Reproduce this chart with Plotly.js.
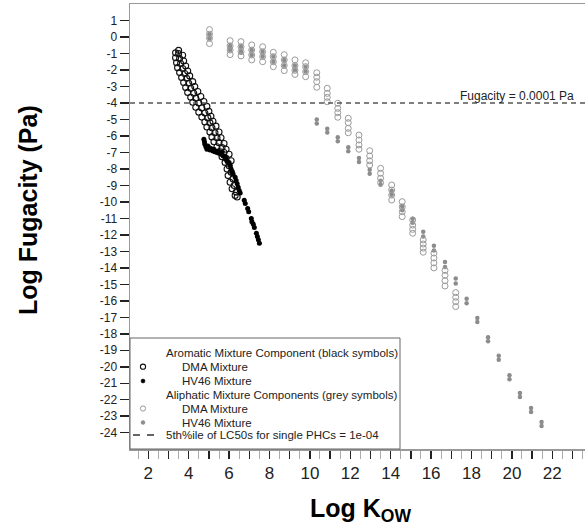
<!DOCTYPE html>
<html><head><meta charset="utf-8">
<script src="https://cdn.plot.ly/plotly-3.0.1.min.js"></script>
<style>html,body{margin:0;padding:0;background:#fff}#chart{width:585px;height:529px}</style>
</head><body><div id="chart"></div>
<script>
// Aromatic components, DMA mixture (black open circles)
const aromDmaKow = [3.5,3.35,3.35,3.4,3.45,3.55,3.65,3.75,3.85,3.95,4.1,4.2,4.35,4.5,4.65,4.8,4.9,5.05,5.15,5.25,5.4,5.55,5.65,5.8,5.9,5.95,6.05,6.15,6.3,
  3.5,3.55,3.6,3.7,3.8,3.9,4.0,4.1,4.25,4.35,4.5,4.65,4.8,4.95,5.05,5.15,5.3,5.4,5.5,5.65,5.75,5.85,6.0,6.1,6.2,6.25,6.35,6.4,
  3.7,3.75,3.85,3.95,4.05,4.2,4.3,4.45,4.6,4.75,4.9,5.0,5.1,5.2,5.35,5.5,5.6,5.75,5.85,6.0,6.1];
const aromDmaFug = [-0.8,-0.95,-1.25,-1.55,-1.85,-2.15,-2.45,-2.75,-3.05,-3.35,-3.65,-3.95,-4.25,-4.55,-4.85,-5.15,-5.45,-5.75,-6.05,-6.35,-6.65,-6.95,-7.25,-7.6,-8.0,-8.4,-8.8,-9.2,-9.6,
  -1.0,-1.3,-1.6,-1.9,-2.2,-2.5,-2.8,-3.1,-3.4,-3.7,-4.0,-4.3,-4.6,-4.9,-5.2,-5.5,-5.8,-6.1,-6.4,-6.7,-7.0,-7.35,-7.8,-8.2,-8.6,-9.0,-9.4,-9.7,
  -1.1,-1.45,-1.75,-2.05,-2.35,-2.7,-3.0,-3.3,-3.6,-3.9,-4.2,-4.5,-4.8,-5.1,-5.4,-5.75,-6.1,-6.45,-6.8,-7.1,-7.5];
// Aromatic components, HV46 mixture (black filled)
const aromHvKow = [4.75,4.78,4.8,4.85,4.9,4.95,5.0,5.05,5.1,5.2,5.25,5.3,5.4,5.45,5.5,5.6,5.65,5.7,5.8,5.85,5.9,6.0,6.05,6.1,6.15,6.2,6.3,6.35,6.4,6.45,6.5,6.55,6.75,6.8,6.92,6.97,7.1,7.13,7.2,7.25,7.35,7.4,7.45,7.5];
const aromHvFug = [-6.2,-6.35,-6.5,-6.65,-6.8,-6.6,-6.7,-6.85,-6.75,-6.9,-6.8,-6.95,-7.0,-6.9,-7.05,-7.1,-7.0,-7.2,-7.25,-7.4,-7.55,-7.6,-7.8,-8.0,-8.15,-8.3,-8.5,-8.7,-8.9,-9.1,-9.3,-9.45,-9.9,-10.1,-10.4,-10.6,-11.0,-11.2,-11.35,-11.55,-11.9,-12.1,-12.3,-12.5];
// Aliphatic components, DMA mixture (grey open circles)
const aliDmaKow = [5.03,5.03,5.03,5.03, 6.05,6.05,6.05,6.05, 6.59,6.59,6.59,6.59, 7.12,7.12,7.12,7.12, 7.66,7.66,7.66,7.66,
  8.19,8.19,8.19,8.19, 8.73,8.73,8.73,8.73, 9.26,9.26,9.26,9.26, 9.79,9.79,9.79,9.79, 10.34,10.34,10.34,10.34,
  10.86,10.86,10.86,10.86, 11.38,11.38,11.38,11.38, 11.9,11.9,11.9,11.9, 12.43,12.43,12.43,12.43, 12.96,12.96,12.96,12.96,
  13.5,13.5,13.5,13.5, 14.05,14.05,14.05,14.05, 14.57,14.57,14.57,14.57, 15.09,15.09,15.09,15.09, 15.61,15.61,15.61,15.61,
  16.14,16.14,16.14,16.14, 16.69,16.69,16.69,16.69, 17.22,17.22,17.22,17.22];
const aliDmaFug = [0.46,0.18,-0.07,-0.39, -0.21,-0.53,-0.78,-1.06, -0.27,-0.58,-0.88,-1.14, -0.47,-0.78,-1.08,-1.38, -0.58,-0.88,-1.18,-1.49,
  -0.92,-1.18,-1.49,-1.79, -1.06,-1.38,-1.72,-2.03, -1.38,-1.72,-2.01,-2.26, -1.55,-1.79,-2.09,-2.4, -2.16,-2.43,-2.7,-3.04,
  -3.1,-3.41,-3.65,-3.92, -4.01,-4.32,-4.58,-4.86, -4.92,-5.19,-5.53,-5.8, -5.94,-6.24,-6.54,-6.8, -6.89,-7.21,-7.5,-7.76,
  -7.96,-8.26,-8.56,-8.83, -8.97,-9.27,-9.58,-9.88, -9.98,-10.29,-10.59,-10.89, -11.09,-11.4,-11.66,-11.9, -12.3,-12.55,-12.8,-13.05,
  -13.1,-13.4,-13.7,-14.0, -14.15,-14.45,-14.78,-15.1, -15.5,-15.78,-16.05,-16.35];
// Aliphatic components, HV46 mixture (grey filled)
const aliHvKow = [5.03,5.03, 6.05,6.05, 6.59,6.59, 7.12,7.12, 7.66,7.66, 8.19,8.19, 8.73,8.73, 9.26,9.26, 9.79,9.79,
  10.34,10.34, 10.86,10.86, 11.38,11.38, 11.9,11.9, 12.43,12.43, 12.96,12.96, 13.5,13.5, 14.05,14.05, 14.57,14.57,
  15.09,15.09, 15.61,15.61, 16.14,16.14, 16.69,16.69, 17.22,17.22, 17.76,17.76, 18.29,18.29, 18.82,18.82, 19.35,19.35,
  19.88,19.88, 20.4,20.4, 20.95,20.95, 21.47,21.47];
const aliHvFug = [0.18,-0.07, -0.53,-0.78, -0.58,-0.88, -0.78,-1.08, -0.88,-1.18, -1.18,-1.49, -1.38,-1.72, -1.72,-2.01, -1.79,-2.09,
  -5.0,-5.24, -5.55,-5.79, -6.08,-6.32, -6.68,-6.92, -7.33,-7.57, -8.04,-8.28, -8.71,-8.95, -9.32,-9.56, -10.26,-10.5,
  -11.02,-11.26, -11.8,-12.1, -12.65,-12.95, -13.65,-13.95, -14.65,-14.95, -15.87,-16.15, -17.04,-17.28, -18.21,-18.45, -19.33,-19.57,
  -20.52,-20.76, -21.59,-21.83, -22.5,-22.74, -23.35,-23.59];
// Axis ticks
const xTickVals = [1,2,3,4,5,6,7,8,9,10,11,12,13,14,15,16,17,18,19,20,21,22,23];
const xTickText = [' ','2',' ','4',' ','6',' ','8',' ','10',' ','12',' ','14',' ','16',' ','18',' ','20',' ','22',' '];
const yTickVals = [1,0,-1,-2,-3,-4,-5,-6,-7,-8,-9,-10,-11,-12,-13,-14,-15,-16,-17,-18,-19,-20,-21,-22,-23,-24];
const yTickText = ['1','0','-1','-2','-3','-4','-5','-6','-7','-8','-9','-10','-11','-12','-13','-14','-15','-16','-17','-18','-19','-20','-21','-22','-23','-24'];
const thresholdLog = -4;
const legendLabels = ['Aromatic Mixture Component (black symbols)','DMA Mixture','HV46 Mixture','Aliphatic Mixture Components (grey symbols)','DMA Mixture','HV46 Mixture','5th%ile of LC50s for single PHCs = 1e-04'];

const FONT = '"Liberation Sans", Arial, sans-serif';
const L = 130, T = 4, W = 455, H = 445;
const px2x = p => (p - L) / W;
const px2y = p => (T + H - p) / H;

const traces = [
  {x: aliHvKow, y: aliHvFug, type: 'scatter', mode: 'markers', marker: {symbol: 'circle', size: 4.5, color: '#8c8c8c'}},
  {x: aliDmaKow, y: aliDmaFug, type: 'scatter', mode: 'markers', marker: {symbol: 'circle-open', size: 6, color: '#9a9a9a', line: {width: 1}}},
  {x: aromDmaKow, y: aromDmaFug, type: 'scatter', mode: 'markers', marker: {symbol: 'circle-open', size: 6, color: '#111', line: {width: 1.1}}},
  {x: aromHvKow, y: aromHvFug, type: 'scatter', mode: 'markers', marker: {symbol: 'circle', size: 5, color: '#000'}}
];

const shapes = [
  {type: 'line', xref: 'paper', x0: 0, x1: 1, yref: 'y', y0: thresholdLog, y1: thresholdLog, line: {color: '#555', width: 1.5, dash: '5px,4px'}},
  {type: 'rect', xref: 'paper', yref: 'paper', x0: 0, x1: px2x(400), y0: 0, y1: px2y(338), line: {color: '#666', width: 1}, fillcolor: '#fff', layer: 'above'},
];
function circ(cx, cy, r, opts) {
  return Object.assign({type: 'circle', xref: 'paper', yref: 'paper', x0: px2x(cx - r), x1: px2x(cx + r), y0: px2y(cy + r), y1: px2y(cy - r), layer: 'above'}, opts);
}
shapes.push(circ(143, 366.7, 2.6, {line: {color: '#111', width: 1.1}, fillcolor: 'rgba(0,0,0,0)'}));
shapes.push(circ(143, 381, 2.0, {line: {color: '#000', width: 0.5}, fillcolor: '#000'}));
shapes.push(circ(143, 408.5, 2.6, {line: {color: '#9a9a9a', width: 1}, fillcolor: 'rgba(0,0,0,0)'}));
shapes.push(circ(143, 422.5, 2.0, {line: {color: '#8c8c8c', width: 0.5}, fillcolor: '#8c8c8c'}));
shapes.push({type: 'line', xref: 'paper', yref: 'paper', x0: px2x(133), x1: px2x(154), y0: px2y(435), y1: px2y(435), line: {color: '#333', width: 1.5, dash: '7px,7px'}, layer: 'above'});

const legY = [352.7, 366.7, 381, 394.5, 408.5, 422.5, 435];
const legX = [164, 180, 180, 164, 180, 180, 164];
const annotations = legendLabels.map((t, i) => ({
  text: t, xref: 'paper', yref: 'paper', x: px2x(legX[i]), y: px2y(legY[i]), xanchor: 'left', yanchor: 'middle',
  showarrow: false, font: {family: FONT, size: 11.5, color: '#222'}
}));
annotations.push({text: 'Fugacity = 0.0001 Pa', xref: 'paper', yref: 'paper', x: px2x(458), y: px2y(96.5), xanchor: 'left', yanchor: 'middle', showarrow: false, font: {family: FONT, size: 12, color: '#222'}});
annotations.push({text: '<b>Log K<sub>OW</sub></b>', xref: 'paper', yref: 'paper', x: px2x(360), y: px2y(510), xanchor: 'center', yanchor: 'middle', showarrow: false, font: {family: FONT, size: 25, color: '#000'}});
annotations.push({text: '<b>Log Fugacity (Pa)</b>', xref: 'paper', yref: 'paper', x: px2x(28), y: px2y(210), xanchor: 'center', yanchor: 'middle', textangle: -90, showarrow: false, font: {family: FONT, size: 25, color: '#000'}});

const layout = {
  width: 585, height: 529,
  margin: {l: L, r: 0, t: T, b: 529 - T - H, pad: 0},
  paper_bgcolor: '#fff', plot_bgcolor: '#fff',
  showlegend: false,
  font: {family: FONT, color: '#222'},
  xaxis: {range: [1.094, 23.62], showgrid: false, zeroline: false, showline: true, linecolor: '#999', linewidth: 1.5, mirror: true,
    tickmode: 'array', tickvals: xTickVals, ticktext: xTickText, ticks: 'outside', ticklen: 8, tickwidth: 1.5, tickcolor: '#222',
    tickfont: {family: FONT, size: 17, color: '#222'},
    minor: {tickmode: 'linear', tick0: 0.5, dtick: 1, ticks: 'outside', ticklen: 8, tickwidth: 1, tickcolor: '#aaa'}},
  yaxis: {range: [-24.99, 2.013], showgrid: false, zeroline: false, showline: true, linecolor: '#999', linewidth: 1.5,
    tickmode: 'array', tickvals: yTickVals, ticktext: yTickText, ticks: 'outside', ticklen: 9, tickwidth: 1.5, tickcolor: '#222',
    tickfont: {family: FONT, size: 12, color: '#222'}},
  shapes: shapes,
  annotations: annotations
};
Plotly.newPlot('chart', traces, layout, {staticPlot: true, displayModeBar: false});
</script>
</body></html>
